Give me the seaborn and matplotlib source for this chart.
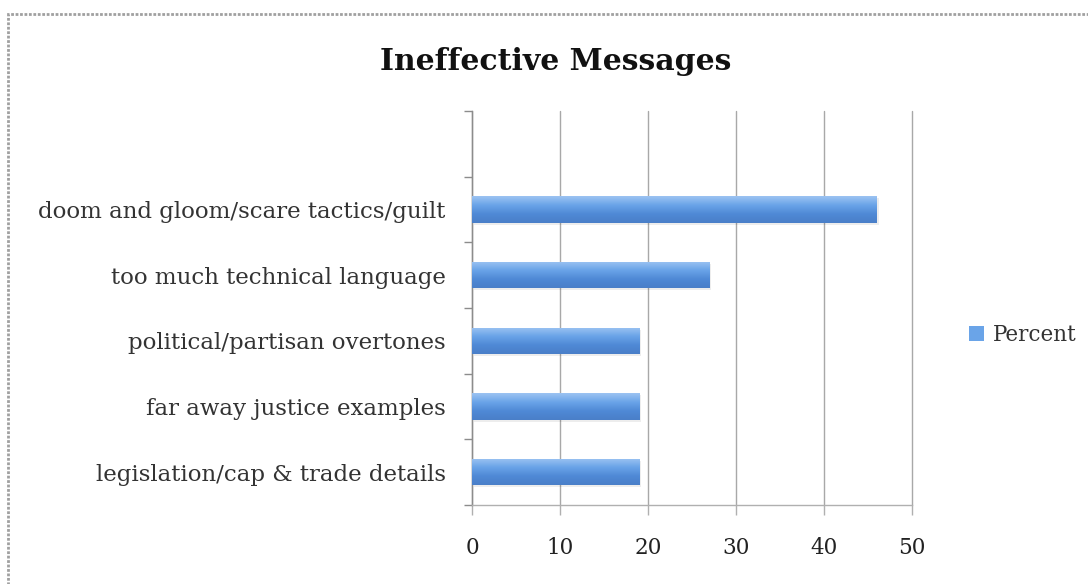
import numpy as np
import pandas as pd
import matplotlib
matplotlib.use("Agg")
import matplotlib.pyplot as plt
from matplotlib.colors import LinearSegmentedColormap
from matplotlib.patches import Rectangle
from matplotlib.ticker import FixedLocator
import seaborn as sns

categories = [
    "doom and gloom/scare tactics/guilt",
    "too much technical language",
    "political/partisan overtones",
    "far away justice examples",
    "legislation/cap & trade details",
]
percent = [46, 27, 19, 19, 19]
x_ticks = [0, 10, 20, 30, 40, 50]
title = "Ineffective Messages"
series_name = "Percent"

sns.set_theme(style="white")
plt.rcParams["font.family"] = ["DejaVu Serif"]

df = pd.DataFrame({"category": categories, "value": percent})

fig = plt.figure(figsize=(10.88, 5.84), dpi=100)
ax = fig.add_axes([0.4338, 0.1353, 0.4044, 0.6746])

sns.barplot(data=df, x="value", y="category", orient="h", color="#5f9be3",
            width=0.4, ax=ax, zorder=3, linewidth=0)

# vertical gradient fill for each bar
grad = LinearSegmentedColormap.from_list(
    "bar", ["#9cc3f2", "#6aa4e8", "#4f89d6", "#4a7fc8"])
for p in ax.patches:
    x0, y0 = p.get_x(), p.get_y()
    w, h = p.get_width(), p.get_height()
    img = ax.imshow(np.linspace(0, 1, 64).reshape(-1, 1), cmap=grad,
                    aspect="auto", extent=(x0, x0 + w, y0 + h, y0),
                    zorder=4, interpolation="bicubic")
    img.set_clip_path(p)
    shadow = Rectangle((x0 + 0.2, y0 + 0.03), w, h, facecolor="#000000",
                       alpha=0.07, edgecolor="none", zorder=2)
    ax.add_patch(shadow)

ax.set_xlim(0, 50)
ax.set_ylim(len(categories) - 0.5, -1.5)
ax.set_xticks(x_ticks)
ax.set_xticklabels([str(t) for t in x_ticks])
ax.set_xlabel("")
ax.set_ylabel("")

ax.xaxis.grid(True, color="#a8a8a8", linewidth=1.0, zorder=0)
for gl in ax.get_xgridlines():
    gl.set_clip_on(False)
ax.yaxis.grid(False)

for side in ["top", "right"]:
    ax.spines[side].set_visible(False)
ax.spines["left"].set_color("#8c8c8c")
ax.spines["bottom"].set_color("#b0b0b0")
ax.spines["left"].set_linewidth(1.0)
ax.spines["bottom"].set_linewidth(1.0)

ax.tick_params(axis="x", which="major", bottom=True, length=7, width=1.0,
               color="#b0b0b0", pad=16, labelsize=15.5, labelcolor="#222222")
ax.tick_params(axis="y", which="major", left=False, length=0, pad=19,
               labelsize=16.5, labelcolor="#333333")
ax.yaxis.set_minor_locator(FixedLocator(np.arange(-1.5, len(categories), 1.0)))
ax.tick_params(axis="y", which="minor", left=True, length=6, width=1.0,
               color="#8c8c8c")

fig.text(0.511, 0.895, title, ha="center", va="center", fontsize=21.5,
         fontweight="bold", color="#111111")

handle = Rectangle((0, 0), 1, 1, facecolor="#6aa4e8", edgecolor="none")
fig.legend([handle], [series_name], loc="center left",
           bbox_to_anchor=(0.873, 0.427), frameon=False, fontsize=15.5,
           handlelength=0.7, handleheight=0.7, handletextpad=0.4,
           labelcolor="#333333")

# dotted frame around the chart area
frame = Rectangle((8 / 1088, -0.2), 1.2, 1 - 14 / 584 + 0.2,
                  transform=fig.transFigure, fill=False,
                  edgecolor="#a0a0a0", linewidth=2.0, linestyle=(0, (1, 0.6)))
fig.patches.append(frame)

fig.savefig("out.png", dpi=100)
